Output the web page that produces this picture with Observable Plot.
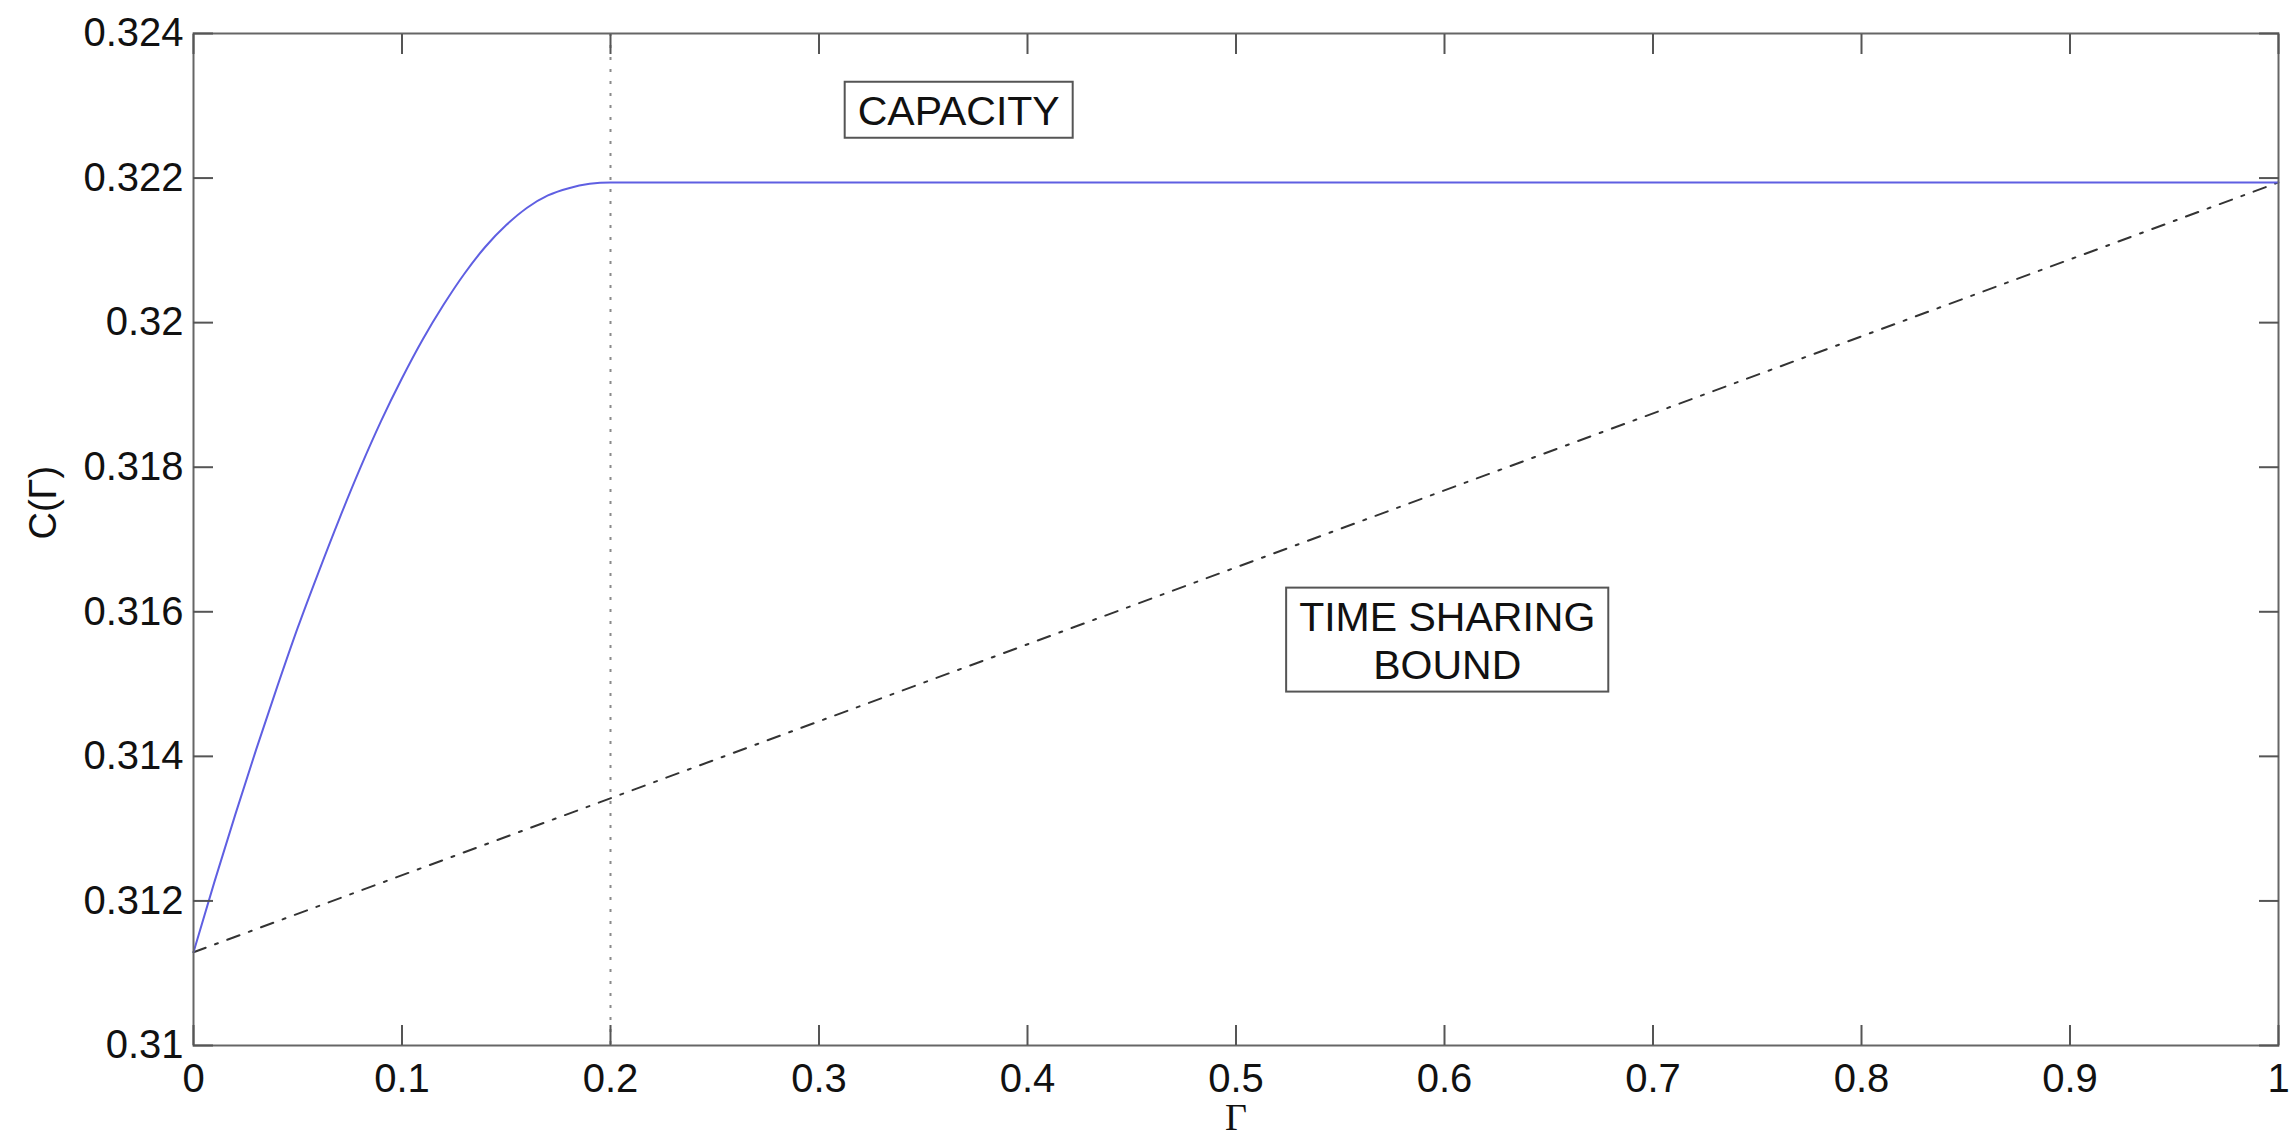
<!DOCTYPE html>
<html><head><meta charset="utf-8">
<script src="https://cdn.jsdelivr.net/npm/d3@7"></script>
<script src="https://cdn.jsdelivr.net/npm/@observablehq/plot@0.6"></script>
<style>
html,body{margin:0;padding:0;background:#fff;}
</style>
</head><body><div id="chart"></div>
<script>
// Capacity curve C(Γ)
const gamma = [0, 0.01, 0.02, 0.03, 0.04, 0.05, 0.06, 0.07, 0.08, 0.09, 0.10,
  0.11, 0.12, 0.13, 0.14, 0.15, 0.16, 0.17, 0.18, 0.19, 0.20, 1.0];
const capacity = [0.31129, 0.31226, 0.31319, 0.31409, 0.31495, 0.31578, 0.31655, 0.31729, 0.31799, 0.31864, 0.31923,
  0.31977, 0.32025, 0.32068, 0.32105, 0.32135, 0.32159, 0.32176, 0.32186, 0.32192, 0.32194, 0.32194];
// Time sharing bound
const shareGamma = [0, 1];
const shareValue = [0.31129, 0.32194];
// Vertical dotted marker
const thresholdGamma = [0.2];
// Ticks
const xTicks = [0, 0.1, 0.2, 0.3, 0.4, 0.5, 0.6, 0.7, 0.8, 0.9, 1];
const xTickLabels = ["0", "0.1", "0.2", "0.3", "0.4", "0.5", "0.6", "0.7", "0.8", "0.9", "1"];
const yTicks = [0.31, 0.312, 0.314, 0.316, 0.318, 0.32, 0.322, 0.324];
const yTickLabels = ["0.31", "0.312", "0.314", "0.316", "0.318", "0.32", "0.322", "0.324"];
// Annotations
const noteText = ["CAPACITY", "TIME SHARING\nBOUND"];
const noteX = [0.367, 0.6013];
const noteY = [0.32295, 0.31562];
const xLabel = "Γ";
const yLabel = "C(Γ)";

const capData = gamma.map((g, i) => ({g, c: capacity[i]}));
const shareData = shareGamma.map((g, i) => ({g, c: shareValue[i]}));
const notes = noteText.map((t, i) => ({t, x: noteX[i], y: noteY[i]}));

const sans = "'Liberation Sans', Arial, Helvetica, sans-serif";
const chart = Plot.plot({
  width: 2296, height: 1138,
  marginLeft: 193, marginRight: 18, marginTop: 33, marginBottom: 93,
  style: {fontFamily: sans, fontSize: "40px", background: "#fff", color: "#111"},
  x: {domain: [0, 1]},
  y: {domain: [0.31, 0.324]},
  marks: [
    Plot.ruleX(thresholdGamma, {stroke: "#8a8a8a", strokeWidth: 2, strokeDasharray: "3,9"}),
    Plot.line(shareData, {x: "g", y: "c", stroke: "#333", strokeWidth: 2, strokeDasharray: "13,10,3,10"}),
    Plot.line(capData, {x: "g", y: "c", stroke: "#5f5fe2", strokeWidth: 2, curve: "monotone-x"}),
    Plot.frame({stroke: "#666", strokeWidth: 2}),
    Plot.axisX(xTicks, {anchor: "bottom", tickSize: -20, tickPadding: 38, stroke: "#555", strokeWidth: 2,
      tickFormat: d => xTickLabels[xTicks.indexOf(d)], fontSize: 40, label: null}),
    Plot.axisX(xTicks, {anchor: "top", tickSize: -20, stroke: "#555", strokeWidth: 2, tickFormat: () => "", label: null}),
    Plot.axisY(yTicks, {anchor: "left", tickSize: -20, tickPadding: 30, stroke: "#555", strokeWidth: 2,
      tickFormat: d => yTickLabels[yTicks.indexOf(d)], fontSize: 40, label: null}),
    Plot.axisY(yTicks, {anchor: "right", tickSize: -20, stroke: "#555", strokeWidth: 2, tickFormat: () => "", label: null}),
    Plot.text([xLabel], {text: d => d, frameAnchor: "bottom", dy: 72, lineAnchor: "middle", fontSize: 38,
      fontFamily: "'Liberation Serif', 'Times New Roman', serif"}),
    Plot.text([yLabel], {text: d => d, frameAnchor: "left", dx: -150, rotate: -90, fontSize: 38}),
    Plot.text(notes, {x: "x", y: "y", text: "t", fontSize: 41, lineHeight: 1.17, textAnchor: "middle",
      fill: "#111", ariaDescription: "note"})
  ]
});
document.getElementById("chart").appendChild(chart);

// Draw boxes around the annotations
const ns = "http://www.w3.org/2000/svg";
chart.querySelectorAll('g[aria-description="note"]').forEach(g => {
  g.querySelectorAll("text").forEach(t => {
    const b = t.getBBox();
    const r = document.createElementNS(ns, "rect");
    r.setAttribute("x", b.x - 13);
    r.setAttribute("y", b.y - 6);
    r.setAttribute("width", b.width + 26);
    r.setAttribute("height", b.height + 10);
    r.setAttribute("fill", "#fff");
    r.setAttribute("stroke", "#555");
    r.setAttribute("stroke-width", 2);
    const tr = t.getAttribute("transform");
    if (tr) r.setAttribute("transform", tr);
    g.insertBefore(r, t);
  });
});
</script>
</body></html>
